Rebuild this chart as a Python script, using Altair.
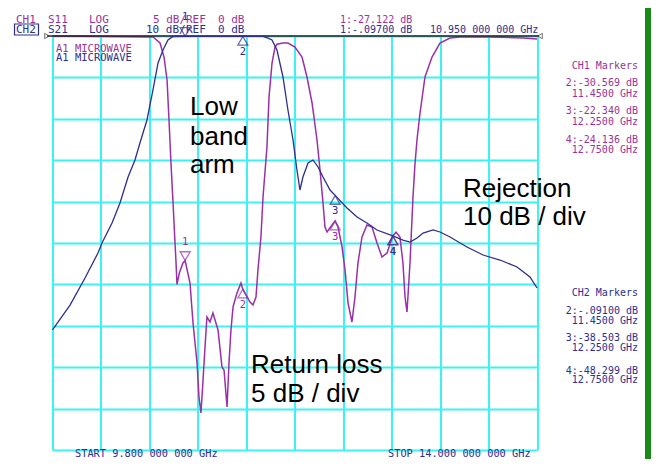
import altair as alt
import pandas as pd

# ---------------- data ----------------
start_ghz, stop_ghz = 9.8, 14.0
x_ticks = [9.8, 10.22, 10.64, 11.06, 11.48, 11.9, 12.32, 12.74, 13.16, 13.58, 14.0]
s11_ticks = [0, -5, -10, -15, -20, -25, -30, -35, -40, -45, -50]

# CH1: S11 return loss, 5 dB/div, ref 0 dB
s11_freq = [9.800, 10.300, 10.645, 10.671, 10.732, 10.767, 10.793, 10.810, 10.827, 10.845,
            10.862, 10.871, 10.879, 10.900, 10.931, 10.950, 10.992, 11.018, 11.053, 11.070,
            11.087, 11.105, 11.122, 11.139, 11.165, 11.191, 11.209, 11.235, 11.269, 11.287,
            11.313, 11.330, 11.347, 11.365, 11.399, 11.434, 11.450, 11.486, 11.512, 11.538,
            11.564, 11.581, 11.607, 11.625, 11.659, 11.677, 11.703, 11.729, 11.746, 11.798,
            11.841, 11.902, 11.963, 12.006, 12.050, 12.093, 12.119, 12.145, 12.162, 12.180,
            12.223, 12.250, 12.275, 12.310, 12.336, 12.362, 12.396, 12.422, 12.448, 12.483,
            12.526, 12.570, 12.613, 12.656, 12.700, 12.750, 12.778, 12.812, 12.838, 12.856,
            12.873, 12.899, 12.925, 12.942, 12.960, 12.986, 13.029, 13.090, 13.159, 13.246,
            13.333, 13.593, 13.879, 14.000]
s11_db = [0.0, -0.05, -0.12, -0.12, -0.85, -2.54, -5.31, -10.14, -15.34, -20.17,
          -25.0, -27.41, -30.0, -28.6, -27.41, -27.12, -29.83, -34.66, -39.49, -43.6,
          -45.53, -41.55, -37.56, -33.94, -34.54, -33.45, -34.30, -35.51, -39.97, -40.34,
          -44.81, -39.49, -35.51, -32.73, -31.04, -29.83, -30.57, -31.52, -32.13, -32.49,
          -31.52, -28.26, -24.27, -19.44, -13.41, -7.37, -3.26, -1.33, -1.0, -0.85,
          -0.85, -1.33, -2.54, -4.95, -8.09, -12.56, -16.18, -20.17, -23.07, -23.67,
          -22.83, -22.34, -23.07, -25.48, -28.26, -32.25, -34.54, -31.52, -27.41, -24.27,
          -22.83, -23.07, -25.0, -26.69, -26.21, -24.14, -23.7, -24.27, -27.41, -31.52,
          -33.33, -27.41, -19.44, -15.5, -12.5, -9.3, -4.95, -2.54, -0.85, -0.24,
          -0.12, -0.12, -0.24, -0.36]

# CH2: S21 transmission, 10 dB/div, ref 0 dB
s21_freq = [9.800, 9.952, 10.082, 10.194, 10.229, 10.316, 10.385, 10.455, 10.515, 10.558,
            10.619, 10.671, 10.715, 10.758, 10.801, 10.845, 10.950, 11.200, 11.450, 11.625,
            11.668, 11.703, 11.746, 11.798, 11.841, 11.885, 11.919, 11.945, 11.971, 12.015,
            12.058, 12.102, 12.145, 12.206, 12.250, 12.353, 12.440, 12.526, 12.613, 12.750,
            12.838, 12.899, 12.960, 13.012, 13.099, 13.159, 13.246, 13.393, 13.532, 13.679,
            13.827, 13.939, 14.000]
s21_db = [-71.0, -65.0, -58.45, -52.42, -50.0, -45.17, -40.34, -34.06, -29.95, -25.85,
          -20.29, -13.04, -6.52, -3.38, -0.97, -0.12, -0.097, -0.09, -0.091, -0.1,
          -0.5, -0.97, -3.38, -9.9, -17.87, -25.12, -32.37, -37.2, -34.06, -30.68,
          -29.95, -31.64, -34.06, -37.2, -38.50, -41.55, -43.72, -45.17, -46.86, -48.30,
          -49.28, -49.76, -48.79, -47.59, -46.86, -47.34, -48.55, -50.97, -52.90, -54.11,
          -55.80, -58.21, -60.87]

marker_ids = ["1", "2", "3", "4"]
marker_freq = [10.95, 11.45, 12.25, 12.75]
marker_s11 = [-27.122, -30.569, -22.340, -24.136]
marker_s21 = [-0.097, -0.091, -38.503, -48.299]

ch1_marker_lines = ["CH1 Markers", "2:-30.569 dB", "11.4500 GHz", "3:-22.340 dB", "12.2500 GHz",
                    "4:-24.136 dB", "12.7500 GHz"]
ch2_marker_lines = ["CH2 Markers", "2:-.09100 dB", "11.4500 GHz", "3:-38.503 dB", "12.2500 GHz",
                    "4:-48.299 dB", "12.7500 GHz"]
header1 = ["CH1", "S11", "LOG", "5 dB/", "REF", "0 dB", "1:-27.122 dB"]
header2 = ["CH2", "S21", "LOG", "10 dB/", "REF", "0 dB", "1:-.09700 dB", "10.950 000 000 GHz"]
trace_title = "A1 MICROWAVE"
start_label = "START 9.800 000 000 GHz"
stop_label = "STOP 14.000 000 000 GHz"
note_low = ["Low", "band", "arm"]
note_rej = ["Rejection", "10 dB / div"]
note_rl = ["Return loss", "5 dB / div"]

# ---------------- styling / layout ----------------
PURPLE = "#9a30a8"
PTEXT = "#993399"
BLUE = "#2e2e8f"
CYAN = "#3cf2f2"
GREEN = "#178a17"
MONO = "DejaVu Sans Mono"
SANS = "Liberation Sans"

PX0, PY0 = 52.5, 36.0      # page position of the plot-area origin
W, H = 484.5, 414.0
SVG_W, SVG_H = 643, 451    # whole drawing, so the page does not overflow

xs = alt.Scale(domain=[start_ghz, stop_ghz], nice=False, zero=False)
y11 = alt.Scale(domain=[-50, 0], nice=False, zero=False)
y21 = alt.Scale(domain=[-100, 0], nice=False, zero=False)
X_AXIS = alt.Axis(values=x_ticks, grid=True, gridColor=CYAN, gridWidth=2, gridOpacity=1,
                  labels=False, ticks=False, domain=False, title=None)
Y_AXIS = alt.Axis(values=s11_ticks, grid=True, gridColor=CYAN, gridWidth=2, gridOpacity=1,
                  labels=False, ticks=False, domain=False, title=None)

one = alt.Data(values=[{}])


def label(text, x, y, color, size=10.5, font=MONO, align="left", baseline="middle"):
    return alt.Chart(one).mark_text(
        text=text, align=align, baseline=baseline, font=font, fontSize=size, color=color
    ).encode(x=alt.value(x - PX0), y=alt.value(y - PY0))


df11 = pd.DataFrame({"f": s11_freq, "db": s11_db})
df21 = pd.DataFrame({"f": s21_freq, "db": s21_db})
dfm = pd.DataFrame({"id": marker_ids, "f": marker_freq, "s11": marker_s11, "s21": marker_s21})

layers = []

s11_line = alt.Chart(df11).mark_line(color=PURPLE, strokeWidth=1.5).encode(
    x=alt.X("f:Q", scale=xs, axis=X_AXIS),
    y=alt.Y("db:Q", scale=y11, axis=Y_AXIS),
)
layers.append(s11_line)

# black reference line and end arrows
layers.append(alt.Chart(one).mark_rule(color="#222222", strokeWidth=1.5).encode(
    x=alt.value(47 - PX0), x2=alt.value(539 - PX0), y=alt.value(0)))
layers.append(alt.Chart(one).mark_point(shape="triangle-right", size=28, filled=False,
                                        color="#333333", strokeWidth=1).encode(
    x=alt.value(47 - PX0), y=alt.value(0)))
layers.append(alt.Chart(one).mark_point(shape="triangle-left", size=28, filled=False,
                                        color="#333333", strokeWidth=1).encode(
    x=alt.value(540 - PX0), y=alt.value(0)))

s21_line = alt.Chart(df21).mark_line(color=BLUE, strokeWidth=1.3).encode(
    x=alt.X("f:Q", scale=xs, axis=X_AXIS),
    y=alt.Y("db:Q", scale=y21, axis=None),
)
layers.append(s21_line)


def markers(field, yscale, color):
    base = alt.Chart(dfm)
    enc = dict(x=alt.X("f:Q", scale=xs, axis=X_AXIS), y=alt.Y(f"{field}:Q", scale=yscale, axis=None))
    act = base.transform_filter("datum.id == '1'")
    rest = base.transform_filter("datum.id != '1'")
    return [
        act.mark_point(shape="triangle-down", size=100, filled=False, color=color,
                       strokeWidth=1.3, yOffset=-4.5).encode(**enc),
        act.mark_text(font=MONO, fontSize=10.5, color=color, dy=-19).encode(text="id:N", **enc),
        rest.mark_point(shape="triangle-up", size=100, filled=False, color=color,
                        strokeWidth=1.3, yOffset=4.5).encode(**enc),
        rest.mark_text(font=MONO, fontSize=10.5, color=color, dy=16).encode(text="id:N", **enc),
    ]


layers += markers("s11", y11, PURPLE)
layers += markers("s21", y21, BLUE)

# header
h1_x = [16, 48, 89, 153, 186, 218, 340]
for t, x in zip(header1, h1_x):
    layers.append(label(t, x, 19.5, PTEXT, size=11 if x < 300 else 10))
h2_x = [16, 48, 89, 146, 186, 218, 340, 430]
for t, x in zip(header2, h2_x):
    layers.append(label(t, x, 29.5, BLUE, size=11 if x < 300 else 10))
layers.append(alt.Chart(one).mark_rect(filled=False, stroke=BLUE, strokeWidth=1.2).encode(
    x=alt.value(14.5 - PX0), x2=alt.value(38.5 - PX0), y=alt.value(24 - PY0), y2=alt.value(35 - PY0)))

layers.append(label(trace_title, 56, 48.5, PTEXT, size=10.5))
layers.append(label(trace_title, 56, 57.5, BLUE, size=10.5))

# marker tables on the right
for t, y in zip(ch1_marker_lines, [66, 83, 93.5, 111, 121.5, 140, 149.5]):
    layers.append(label(t, 638, y, PTEXT, size=10, align="right"))
for t, y in zip(ch2_marker_lines, [293, 311, 320.5, 338, 348, 370.5, 379.5]):
    layers.append(label(t, 638, y, BLUE, size=10, align="right"))

# start / stop
layers.append(label(start_label, 75, 454, BLUE, size=10.3))
layers.append(label(stop_label, 388, 454, BLUE, size=10.3))

# annotations
for t, y in zip(note_low, [115, 145, 173]):
    layers.append(label(t, 190, y, "black", size=26, font=SANS, baseline="alphabetic"))
for t, y in zip(note_rej, [197, 225]):
    layers.append(label(t, 463, y, "black", size=26, font=SANS, baseline="alphabetic"))
for t, y in zip(note_rl, [373, 402]):
    layers.append(label(t, 251, y, "black", size=26, font=SANS, baseline="alphabetic"))

# right green frame stripe (at the right edge of the drawing)
layers.append(alt.Chart(one).mark_rect(color=GREEN).encode(
    x=alt.value(8 + SVG_W - 6 - PX0), x2=alt.value(8 + SVG_W - PX0),
    y=alt.value(8 - PY0), y2=alt.value(8 + SVG_H - PY0)))

chart = alt.layer(*layers).resolve_scale(y="independent").properties(
    width=W, height=H,
    padding={"left": PX0 - 8, "top": PY0 - 8,
             "right": SVG_W - (PX0 - 8) - W, "bottom": SVG_H - (PY0 - 8) - H},
    autosize="none",
    background="white",
).configure_view(stroke=None)

chart.save("out.html", embed_options={"renderer": "svg", "actions": False})
